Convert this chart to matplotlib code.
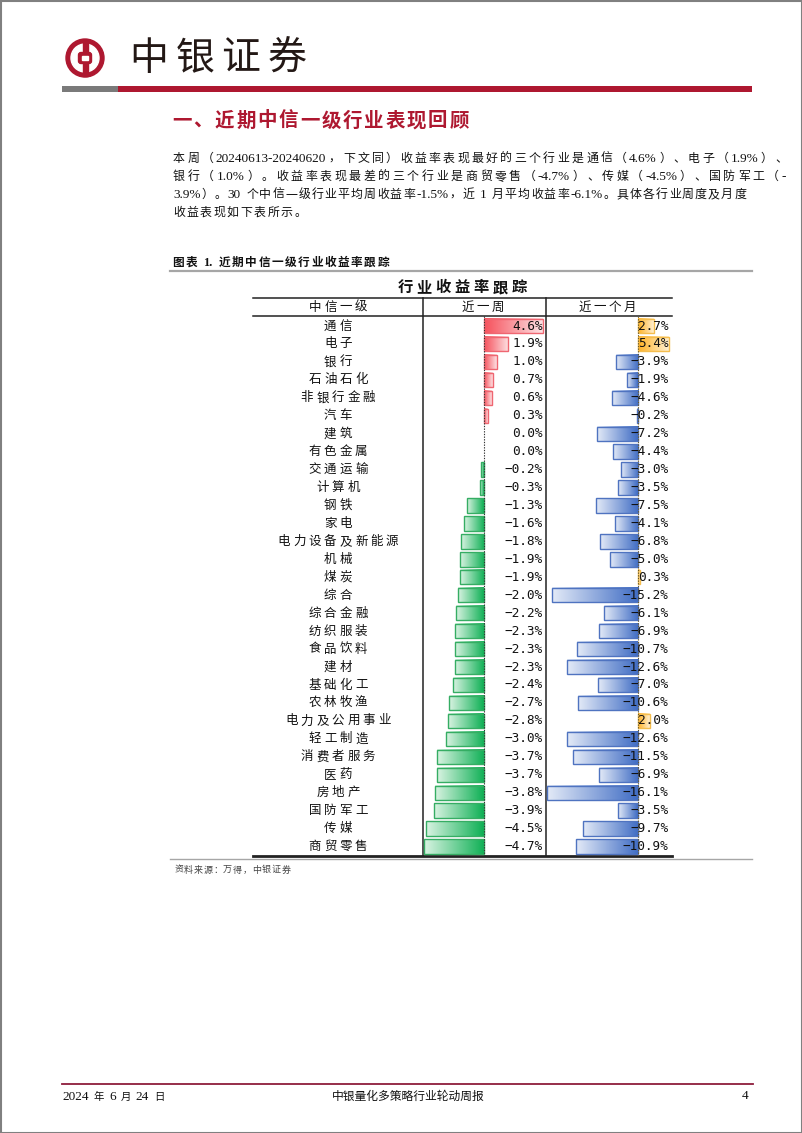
import matplotlib
matplotlib.use('Agg')
import matplotlib.pyplot as plt
import numpy as np
from matplotlib.patches import Circle, Rectangle, FancyBboxPatch
from matplotlib.transforms import blended_transform_factory
from matplotlib.colors import to_rgb

# ---- data ----
industries = ['通信', '电子', '银行', '石油石化', '非银行金融', '汽车', '建筑', '有色金属',
              '交通运输', '计算机', '钢铁', '家电', '电力设备及新能源', '机械', '煤炭', '综合',
              '综合金融', '纺织服装', '食品饮料', '建材', '基础化工', '农林牧渔', '电力及公用事业',
              '轻工制造', '消费者服务', '医药', '房地产', '国防军工', '传媒', '商贸零售']
week_ret = [4.6, 1.9, 1.0, 0.7, 0.6, 0.3, 0.0, 0.0, -0.2, -0.3, -1.3, -1.6, -1.8, -1.9, -1.9,
            -2.0, -2.2, -2.3, -2.3, -2.3, -2.4, -2.7, -2.8, -3.0, -3.7, -3.7, -3.8, -3.9, -4.5, -4.7]
month_ret = [2.7, 5.4, -3.9, -1.9, -4.6, -0.2, -7.2, -4.4, -3.0, -3.5, -7.5, -4.1, -6.8, -5.0, 0.3,
             -15.2, -6.1, -6.9, -10.7, -12.6, -7.0, -10.6, 2.0, -12.6, -11.5, -6.9, -16.1, -3.5, -9.7, -10.9]
col_headers = ['中信一级', '近一周', '近一个月']
table_title = '行业收益率跟踪'
page_title = '一、近期中信一级行业表现回顾'
para_lines = ['本周（20240613-20240620，下文同）收益率表现最好的三个行业是通信（4.6%）、电子（1.9%）、',
              '银行（1.0%）。收益率表现最差的三个行业是商贸零售（-4.7%）、传媒（-4.5%）、国防军工（-',
              '3.9%）。30 个中信一级行业平均周收益率-1.5%，近 1 月平均收益率-6.1%。具体各行业周度及月度',
              '收益表现如下表所示。']
caption = '图表 1. 近期中信一级行业收益率跟踪'
source = '资料来源：万得，中银证券'
footer_date = '2024 年 6 月 24 日'
footer_title = '中银量化多策略行业轮动周报'
page_no = '4'

RED = '#AE1830'
CJK = 'Noto Sans CJK SC'
BODY = ['Liberation Serif', CJK]

W, H = 802, 1133
fig = plt.figure(figsize=(W / 100, H / 100), dpi=100)
page = fig.add_axes([0, 0, 1, 1])
page.set_xlim(0, W)
page.set_ylim(H, 0)
page.axis('off')
renderer = fig.canvas.get_renderer()

# page border
page.add_patch(Rectangle((0.5, 0.5), W - 1, H - 1, fill=False, edgecolor='#808080', lw=1.5))

# ---- header: logo + name + bar ----
page.add_patch(Circle((85, 58), 19, color=RED))
page.add_patch(Circle((85, 58), 14, color='white'))
page.add_patch(Rectangle((82.5, 40), 5, 36, color=RED))
page.add_patch(FancyBboxPatch((78.5, 52.5), 13, 11, boxstyle='round,pad=0,rounding_size=2.5', color=RED))
page.add_patch(Rectangle((81.8, 55.8), 6.4, 4.4, color='white'))
for k, ch in enumerate('中银证券'):
    page.text(149 + k * 46, 59, ch, fontsize=28, family=CJK, color='#231815', ha='center', va='center')
page.add_patch(Rectangle((62, 86), 56, 6, color='#7a7a7a', lw=0))
page.add_patch(Rectangle((118, 86), 634, 6, color=RED, lw=0))

# ---- section title ----
for k, ch in enumerate(page_title):
    page.text(182 + k * 21.3, 121, ch, fontsize=14, family=CJK, weight='bold', color=RED,
              ha='center', va='center')


def tokens(s):
    out, buf = [], ''
    for ch in s:
        if ord(ch) > 0x2E80 or ch == ' ':
            if buf:
                out.append(buf)
                buf = ''
            out.append(ch)
        else:
            buf += ch
    if buf:
        out.append(buf)
    return out


def justify(x0, y, s, x1=None, extra=0.0, cjk_size=8, asc_size=9.5, **kw):
    toks = tokens(s)
    objs, widths = [], []
    for t in toks:
        if t == ' ':
            objs.append(None)
            widths.append(3.0)
            continue
        wide = ord(t[0]) > 0x2E80
        o = page.text(0, y, t, fontsize=cjk_size if wide else asc_size, family=BODY,
                      ha='left', va='baseline', **kw)
        objs.append(o)
        widths.append(o.get_window_extent(renderer).width)
    if x1 is not None:
        extra = (x1 - x0 - sum(widths)) / max(len(toks) - 1, 1)
    x = x0
    for o, w in zip(objs, widths):
        if o is not None:
            o.set_x(x)
        x += w + extra


# ---- paragraph ----
para_y = [162, 180, 198, 216]
para_end = [787, 786, 746, None]
for line, y, x1 in zip(para_lines, para_y, para_end):
    justify(173, y, line, x1=x1, extra=1.6, cjk_size=8.6, asc_size=9.5, color='#111111')

# ---- figure caption ----
justify(172, 266, caption, x1=389, weight='bold', cjk_size=8.4, asc_size=9, color='#111111')
page.plot([170, 752], [270.5, 270.5], color='#a6a6a6', lw=1.6)

# ---- table frame ----
for k, ch in enumerate(table_title):
    page.text(405 + k * 19, 287, ch, fontsize=11, family=CJK, weight='bold', color='#111111',
              ha='center', va='center')
page.plot([253, 672], [298, 298], color='#222222', lw=1.1)
page.plot([253, 672], [316, 316], color='#222222', lw=1.1)
page.plot([422.5, 422.5], [298, 856], color='#222222', lw=1.1)
page.plot([545.7, 545.7], [298, 856], color='#222222', lw=1.1)
page.plot([253, 672], [856, 856], color='#222222', lw=2.0)
page.plot([170, 752], [858.8, 858.8], color='#a6a6a6', lw=1.0)
for name, cx in zip(col_headers, [338, 483, 607]):
    n = len(name)
    for k, ch in enumerate(name):
        page.text(cx + (k - (n - 1) / 2) * 15, 307, ch, fontsize=9, family=CJK, color='#111111',
                  ha='center', va='center')

# ---- table body axes ----
ylim = ((856 - 326) / 17.95, (316 - 326) / 17.95)
ax_n = fig.add_axes([253 / W, 1 - 856 / H, 170 / W, 540 / H])
ax_w = fig.add_axes([423 / W, 1 - 856 / H, 123 / W, 540 / H])
ax_m = fig.add_axes([546 / W, 1 - 856 / H, 126 / W, 540 / H])
for a in (ax_n, ax_w, ax_m):
    a.patch.set_alpha(0)
    a.axis('off')

rows = np.arange(len(industries))
tn = blended_transform_factory(ax_n.transAxes, ax_n.transData)
for i, name in zip(rows, industries):
    n = len(name)
    for k, ch in enumerate(name):
        ax_n.annotate(ch, xy=(0.5, i), xycoords=tn, xytext=((k - (n - 1) / 2) * 15.5, 0),
                      textcoords='offset pixels', ha='center', va='center',
                      fontsize=9, family=CJK, color='#111111')


def grad_bar(ax, i, v, base, tip, edge, h=0.8):
    if v == 0:
        return
    t = np.linspace(0, 1, 80)[:, None]
    cols = np.array(to_rgb(base)) * (1 - t) + np.array(to_rgb(tip)) * t
    if v < 0:
        cols = cols[::-1]
    ax.imshow(cols[None, :, :], extent=(min(0, v), max(0, v), i + h / 2, i - h / 2),
              aspect='auto', interpolation='bilinear', zorder=2)
    ax.barh(i, v, height=h, fill=False, edgecolor=edge, lw=1.0, zorder=3)


def fmt(v):
    s = f'{abs(v):.1f}%'
    return ('−' + s) if v < 0 else s


for i, v in zip(rows, week_ret):
    if v > 0:
        grad_bar(ax_w, i, v, '#f6515c', '#fde2e4', '#ef6671')
    else:
        grad_bar(ax_w, i, v, '#0fb055', '#d9f3e2', '#35ad63')
for i, v in zip(rows, month_ret):
    if v > 0:
        grad_bar(ax_m, i, v, '#ffb224', '#fff0d2', '#f4bd4e')
    else:
        grad_bar(ax_m, i, v, '#3f6cc4', '#e3eaf7', '#4f73c0')

ax_w.axvline(0, color='#333333', lw=0.8, ls=(0, (1.2, 1.2)), zorder=4)
ax_m.axvline(0, color='#6b5a2a', lw=0.8, ls=(0, (1.2, 1.2)), zorder=4)

for ax, vals, pad in ((ax_w, week_ret, -3.3), (ax_m, month_ret, -3.7)):
    tr = blended_transform_factory(ax.transAxes, ax.transData)
    for i, v in zip(rows, vals):
        ax.annotate(fmt(v), xy=(1, i), xycoords=tr, xytext=(pad, 0), textcoords='offset pixels',
                    ha='right', va='center', fontsize=9.2, family='DejaVu Sans Mono',
                    color='#111111', zorder=5)

ax_n.set_xlim(0, 1)
ax_w.set_xlim((423 - 484) / 12.8, (546 - 484) / 12.8)
ax_m.set_xlim((546 - 638.3) / 5.69, (672 - 638.3) / 5.69)
for a in (ax_n, ax_w, ax_m):
    a.set_ylim(*ylim)

# ---- source ----
for k, ch in enumerate(source):
    page.text(179 + k * 9.7, 870, ch, fontsize=6.5, family=CJK, color='#444444',
              ha='center', va='center', style='italic')

# ---- footer ----
page.plot([62, 753], [1084, 1084], color='#8e1c3c', lw=1.3)
justify(62, 1100, footer_date, extra=1.0, cjk_size=7.5, asc_size=9.5, color='#111111')
page.text(408, 1096, footer_title, fontsize=8.5, family=CJK, color='#111111', ha='center', va='center')
page.text(745, 1096, page_no, fontsize=9.5, family='Liberation Serif', color='#111111',
          ha='center', va='center')

fig.savefig('out.png', dpi=100)
